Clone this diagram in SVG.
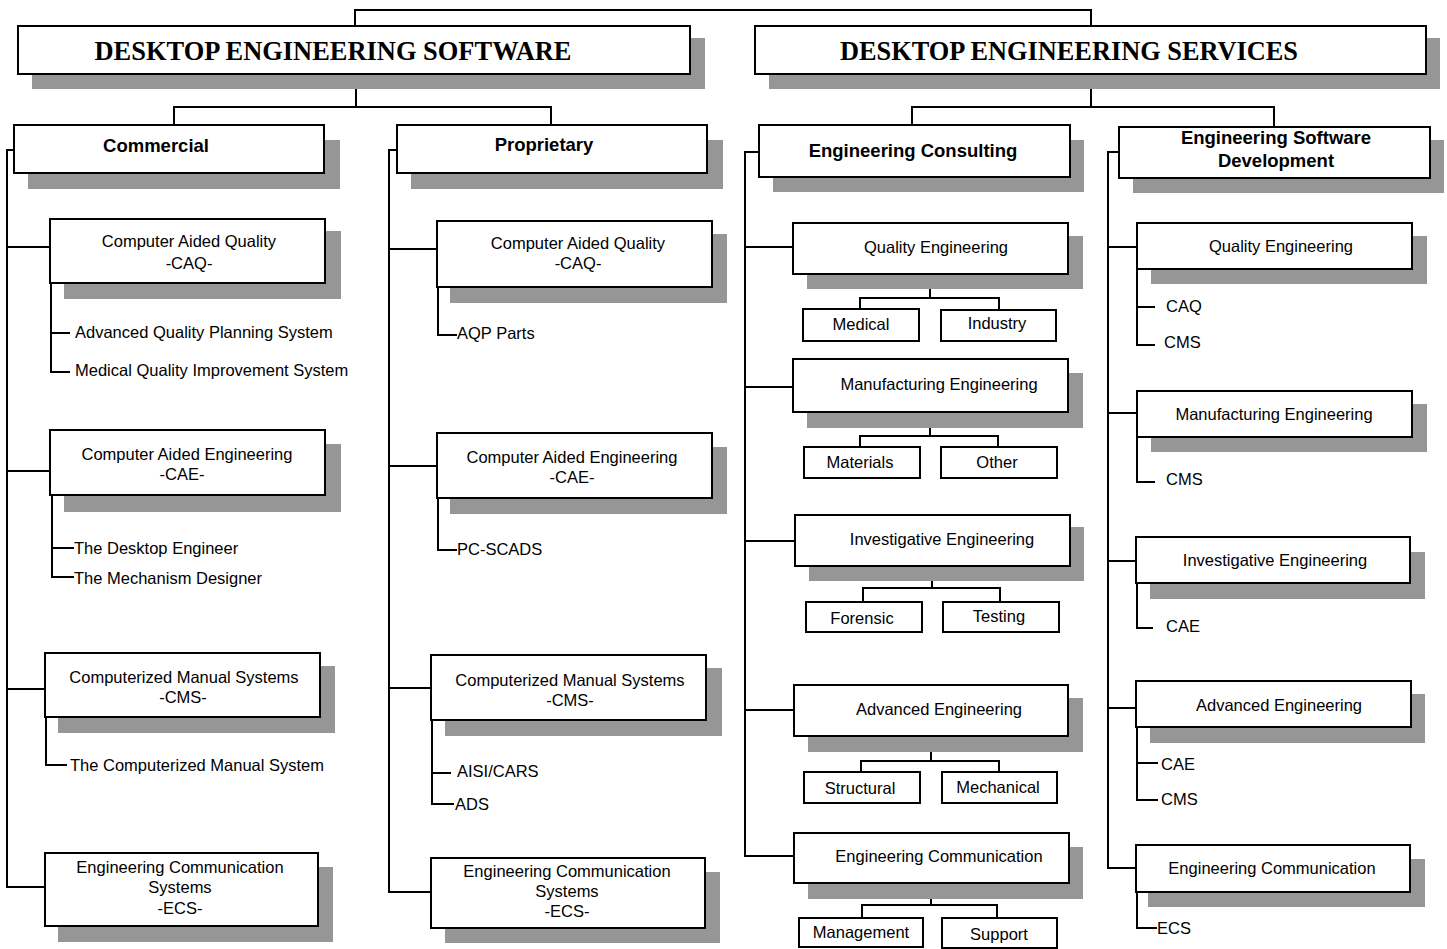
<svg xmlns="http://www.w3.org/2000/svg" width="1447" height="949" viewBox="0 0 1447 949">
<style>
.sh{fill:#969696}
.bx{fill:#fff;stroke:#000;stroke-width:2}
.ln{fill:none;stroke:#000;stroke-width:2}
.t{font-family:"Liberation Sans",Arial,sans-serif;font-size:16.5px;text-anchor:middle;fill:#000}
.l{font-family:"Liberation Sans",Arial,sans-serif;font-size:16.5px;text-anchor:start;fill:#000}
.h{font-family:"Liberation Sans",Arial,sans-serif;font-size:18.5px;font-weight:bold;text-anchor:middle;fill:#000}
.ti{font-family:"Liberation Serif","Times New Roman",serif;font-size:27.5px;font-weight:bold;text-anchor:middle;fill:#000}
</style>
<rect width="1447" height="949" fill="#fff"/>
<g id="connectors" class="ln">
<path d="M355 26 V10 H1091 V26"/>
<path d="M356 89 V107"/><path d="M174 125 V107 H551 V125"/>
<path d="M1091 89 V107"/><path d="M912 125 V107 H1274 V127"/>
<path d="M14 150 H7 V887 H45"/><path d="M7 247 H50"/><path d="M7 471 H50"/><path d="M7 689 H45"/>
<path d="M397 150 H389 V892 H431"/><path d="M389 249 H437"/><path d="M389 466 H437"/><path d="M389 688 H431"/>
<path d="M759 152 H745 V856 H794"/><path d="M745 247 H793"/><path d="M745 387 H793"/><path d="M745 541 H795"/><path d="M745 710 H794"/>
<path d="M1119 152 H1108 V868 H1136"/><path d="M1108 247 H1137"/><path d="M1108 413 H1137"/><path d="M1108 561 H1136"/><path d="M1108 708 H1136"/>
<path d="M51 283 V372 H70"/><path d="M51 333 H70"/>
<path d="M52 495 V577 H74"/><path d="M52 548 H74"/>
<path d="M46 717 V765 H67"/>
<path d="M438 287 V335 H457"/>
<path d="M438 498 V550 H457"/>
<path d="M432 720 V804 H454"/><path d="M432 773 H451"/>
<path d="M1137 269 V345 H1155"/><path d="M1137 307 H1155"/>
<path d="M1137 437 V482 H1155"/>
<path d="M1137 583 V628 H1153"/>
<path d="M1137 727 V800 H1158"/><path d="M1137 763 H1158"/>
<path d="M1137 892 V928 H1157"/>
<path d="M930 289 V298"/><path d="M860 310 V298 H999 V310"/>
<path d="M930 428 V436"/><path d="M860 447 V436 H998 V447"/>
<path d="M932 581 V588"/><path d="M863 602 V588 H1000 V602"/>
<path d="M931 752 V761"/><path d="M861 772 V761 H999 V772"/>
<path d="M931 899 V905"/><path d="M862 918 V905 H997 V918"/>
</g>
<g id="n-des"><rect class="sh" x="32" y="38" width="673" height="51"/><rect class="bx" x="18" y="26" width="672" height="48"/><text class="ti" x="333" y="60" textLength="477" lengthAdjust="spacingAndGlyphs">DESKTOP ENGINEERING SOFTWARE</text></g>
<g id="n-dsv"><rect class="sh" x="769" y="38" width="671" height="51"/><rect class="bx" x="755" y="26" width="671" height="48"/><text class="ti" x="1069" y="60" textLength="458" lengthAdjust="spacingAndGlyphs">DESKTOP ENGINEERING SERVICES</text></g>
<g id="n-com"><rect class="sh" x="28" y="140" width="312" height="49"/><rect class="bx" x="14" y="125" width="310" height="48"/><text class="h" x="156" y="152">Commercial</text></g>
<g id="n-pro"><rect class="sh" x="411" y="140" width="312" height="49"/><rect class="bx" x="397" y="125" width="310" height="48"/><text class="h" x="544" y="151">Proprietary</text></g>
<g id="n-ec"><rect class="sh" x="773" y="140" width="311" height="52"/><rect class="bx" x="759" y="125" width="311" height="52"/><text class="h" x="913" y="157">Engineering Consulting</text></g>
<g id="n-esd"><rect class="sh" x="1133" y="140" width="311" height="53"/><rect class="bx" x="1119" y="127" width="311" height="51"/><text class="h" x="1276" y="144">Engineering Software</text><text class="h" x="1276" y="167">Development</text></g>

<g id="n-c-caq"><rect class="sh" x="64" y="231" width="277" height="68"/><rect class="bx" x="50" y="219" width="275" height="64"/><text class="t" x="189" y="247">Computer Aided Quality</text><text class="t" x="189" y="269">-CAQ-</text></g>
<g id="n-c-caq1"><text class="l" x="75" y="338">Advanced Quality Planning System</text></g>
<g id="n-c-caq2"><text class="l" x="75" y="376">Medical Quality Improvement System</text></g>
<g id="n-c-cae"><rect class="sh" x="64" y="444" width="277" height="68"/><rect class="bx" x="50" y="430" width="275" height="65"/><text class="t" x="187" y="460">Computer Aided Engineering</text><text class="t" x="182" y="480">-CAE-</text></g>
<g id="n-c-cae1"><text class="l" x="74" y="554">The Desktop Engineer</text></g>
<g id="n-c-cae2"><text class="l" x="74" y="584">The Mechanism Designer</text></g>
<g id="n-c-cms"><rect class="sh" x="58" y="666" width="277" height="67"/><rect class="bx" x="45" y="653" width="275" height="64"/><text class="t" x="184" y="683">Computerized Manual Systems</text><text class="t" x="183" y="703">-CMS-</text></g>
<g id="n-c-cms1"><text class="l" x="70" y="771">The Computerized Manual System</text></g>
<g id="n-c-ecs"><rect class="sh" x="58" y="867" width="275" height="75"/><rect class="bx" x="45" y="853" width="273" height="73"/><text class="t" x="180" y="873">Engineering Communication</text><text class="t" x="180" y="893">Systems</text><text class="t" x="180" y="914">-ECS-</text></g>

<g id="n-p-caq"><rect class="sh" x="450" y="234" width="277" height="69"/><rect class="bx" x="437" y="221" width="275" height="66"/><text class="t" x="578" y="249">Computer Aided Quality</text><text class="t" x="578" y="269">-CAQ-</text></g>
<g id="n-p-caq1"><text class="l" x="457" y="339">AQP Parts</text></g>
<g id="n-p-cae"><rect class="sh" x="450" y="447" width="277" height="67"/><rect class="bx" x="437" y="433" width="275" height="65"/><text class="t" x="572" y="463">Computer Aided Engineering</text><text class="t" x="572" y="483">-CAE-</text></g>
<g id="n-p-cae1"><text class="l" x="457" y="555">PC-SCADS</text></g>
<g id="n-p-cms"><rect class="sh" x="445" y="668" width="277" height="68"/><rect class="bx" x="431" y="655" width="275" height="65"/><text class="t" x="570" y="686">Computerized Manual Systems</text><text class="t" x="570" y="706">-CMS-</text></g>
<g id="n-p-cms1"><text class="l" x="457" y="777">AISI/CARS</text></g>
<g id="n-p-cms2"><text class="l" x="455" y="810">ADS</text></g>
<g id="n-p-ecs"><rect class="sh" x="445" y="872" width="275" height="71"/><rect class="bx" x="431" y="858" width="274" height="70"/><text class="t" x="567" y="877">Engineering Communication</text><text class="t" x="567" y="897">Systems</text><text class="t" x="567" y="917">-ECS-</text></g>

<g id="n-ec-qe"><rect class="sh" x="807" y="236" width="276" height="53"/><rect class="bx" x="793" y="223" width="275" height="51"/><text class="t" x="936" y="253">Quality Engineering</text></g>
<g id="n-ec-med"><rect class="bx" x="803" y="309" width="116" height="32"/><text class="t" x="861" y="330">Medical</text></g>
<g id="n-ec-ind"><rect class="bx" x="941" y="310" width="115" height="31"/><text class="t" x="997" y="329">Industry</text></g>
<g id="n-ec-mfg"><rect class="sh" x="807" y="373" width="276" height="55"/><rect class="bx" x="793" y="359" width="275" height="53"/><text class="t" x="939" y="390">Manufacturing Engineering</text></g>
<g id="n-ec-mat"><rect class="bx" x="804" y="447" width="116" height="31"/><text class="t" x="860" y="468">Materials</text></g>
<g id="n-ec-oth"><rect class="bx" x="941" y="447" width="116" height="31"/><text class="t" x="997" y="468">Other</text></g>
<g id="n-ec-inv"><rect class="sh" x="809" y="527" width="275" height="54"/><rect class="bx" x="795" y="515" width="275" height="51"/><text class="t" x="942" y="545">Investigative Engineering</text></g>
<g id="n-ec-for"><rect class="bx" x="806" y="602" width="116" height="30"/><text class="t" x="862" y="624">Forensic</text></g>
<g id="n-ec-tes"><rect class="bx" x="943" y="602" width="116" height="30"/><text class="t" x="999" y="622">Testing</text></g>
<g id="n-ec-adv"><rect class="sh" x="808" y="698" width="275" height="54"/><rect class="bx" x="794" y="685" width="274" height="51"/><text class="t" x="939" y="715">Advanced Engineering</text></g>
<g id="n-ec-str"><rect class="bx" x="804" y="772" width="116" height="31"/><text class="t" x="860" y="794">Structural</text></g>
<g id="n-ec-mec"><rect class="bx" x="942" y="772" width="115" height="31"/><text class="t" x="998" y="793">Mechanical</text></g>
<g id="n-ec-com"><rect class="sh" x="808" y="847" width="275" height="52"/><rect class="bx" x="794" y="833" width="275" height="50"/><text class="t" x="939" y="862">Engineering Communication</text></g>
<g id="n-ec-man"><rect class="bx" x="799" y="918" width="124" height="29"/><text class="t" x="861" y="938">Management</text></g>
<g id="n-ec-sup"><rect class="bx" x="942" y="918" width="115" height="30"/><text class="t" x="999" y="940">Support</text></g>

<g id="n-sd-qe"><rect class="sh" x="1151" y="236" width="276" height="48"/><rect class="bx" x="1137" y="223" width="275" height="46"/><text class="t" x="1281" y="252">Quality Engineering</text></g>
<g id="n-sd-qe1"><text class="l" x="1166" y="312">CAQ</text></g>
<g id="n-sd-qe2"><text class="l" x="1164" y="348">CMS</text></g>
<g id="n-sd-mfg"><rect class="sh" x="1151" y="404" width="276" height="48"/><rect class="bx" x="1137" y="391" width="275" height="46"/><text class="t" x="1274" y="420">Manufacturing Engineering</text></g>
<g id="n-sd-mfg1"><text class="l" x="1166" y="485">CMS</text></g>
<g id="n-sd-inv"><rect class="sh" x="1150" y="552" width="275" height="47"/><rect class="bx" x="1136" y="537" width="274" height="46"/><text class="t" x="1275" y="566">Investigative Engineering</text></g>
<g id="n-sd-inv1"><text class="l" x="1166" y="632">CAE</text></g>
<g id="n-sd-adv"><rect class="sh" x="1150" y="694" width="275" height="49"/><rect class="bx" x="1136" y="681" width="275" height="46"/><text class="t" x="1279" y="711">Advanced Engineering</text></g>
<g id="n-sd-adv1"><text class="l" x="1161" y="770">CAE</text></g>
<g id="n-sd-adv2"><text class="l" x="1161" y="805">CMS</text></g>
<g id="n-sd-com"><rect class="sh" x="1148" y="859" width="277" height="48"/><rect class="bx" x="1136" y="845" width="274" height="47"/><text class="t" x="1272" y="874">Engineering Communication</text></g>
<g id="n-sd-com1"><text class="l" x="1157" y="934">ECS</text></g>
</svg>
